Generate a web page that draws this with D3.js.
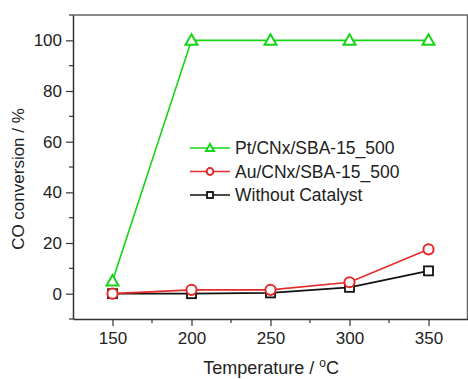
<!DOCTYPE html>
<html lang="en">
<head>
<meta charset="UTF-8">
<title>CO conversion</title>
<script src="https://d3js.org/d3.v7.min.js"></script>
<style>
  body { margin: 0; background: #fff; font-family: Arial, "Liberation Sans", sans-serif; }
  svg { display: block; }
  .tick text { font-size: 17px; fill: #222; }
</style>
</head>
<body>
<svg id="chart" width="468" height="379"></svg>
<script>
  const temperatures = [150, 200, 250, 300, 350];
  const ptValues = [5, 100, 100, 100, 100];
  const auValues = [0, 1.5, 1.5, 4.5, 17.5];
  const blankValues = [0, 0, 0.3, 2.5, 9];
  const seriesNames = ["Pt/CNx/SBA-15_500", "Au/CNx/SBA-15_500", "Without Catalyst"];
  const yTicks = [0, 20, 40, 60, 80, 100];

  const svg = d3.select("#chart");
  const mLeft = 73, mRight = 468, mTop = 15, mBottom = 319;

  const x = d3.scaleLinear().domain([125, 375]).range([mLeft, mRight]);
  const y = d3.scaleLinear().domain([-10, 110]).range([mBottom, mTop]);

  // frame top/right
  svg.append("path")
    .attr("d", `M${mLeft},${mTop}H${mRight - 0.5}V${mBottom}`)
    .attr("fill", "none").attr("stroke", "#666").attr("stroke-width", 1.5);

  // minor ticks
  svg.append("g").selectAll("line").data(d3.range(175, 375, 50)).join("line")
    .attr("x1", d => x(d)).attr("x2", d => x(d))
    .attr("y1", mBottom).attr("y2", mBottom + 4)
    .attr("stroke", "#333").attr("stroke-width", 1.2);
  svg.append("g").selectAll("line").data(d3.range(-10, 111, 20)).join("line")
    .attr("x1", mLeft).attr("x2", mLeft - 4)
    .attr("y1", d => y(d)).attr("y2", d => y(d))
    .attr("stroke", "#333").attr("stroke-width", 1.2);

  const xAxis = svg.append("g")
    .attr("transform", `translate(0,${mBottom})`)
    .call(d3.axisBottom(x).tickValues(temperatures).tickSize(7).tickPadding(6).tickSizeOuter(0));
  const yAxis = svg.append("g")
    .attr("transform", `translate(${mLeft},0)`)
    .call(d3.axisLeft(y).tickValues(yTicks).tickSize(7).tickPadding(4).tickSizeOuter(0));
  [xAxis, yAxis].forEach(a => {
    a.select(".domain").attr("stroke", "#333").attr("stroke-width", 1.5);
    a.selectAll(".tick line").attr("stroke", "#333").attr("stroke-width", 1.2);
  });

  const series = [
    { name: seriesNames[0], values: ptValues, color: "#16d416", shape: "tri" },
    { name: seriesNames[1], values: auValues, color: "#e52a2a", shape: "circle" },
    { name: seriesNames[2], values: blankValues, color: "#111", shape: "square" }
  ];

  const line = d3.line().x(d => x(d[0])).y(d => y(d[1]));

  function marker(g, shape, color, cx, cy, s) {
    if (shape === "tri") {
      g.append("path")
        .attr("d", `M${cx},${cy - s}L${cx + s},${cy + s * 0.75}L${cx - s},${cy + s * 0.75}Z`)
        .attr("fill", "#fff").attr("stroke", color).attr("stroke-width", 2);
    } else if (shape === "circle") {
      g.append("circle").attr("cx", cx).attr("cy", cy).attr("r", s * 0.85)
        .attr("fill", "#fff").attr("stroke", color).attr("stroke-width", 2);
    } else {
      g.append("rect").attr("x", cx - s * 0.75).attr("y", cy - s * 0.75)
        .attr("width", s * 1.5).attr("height", s * 1.5)
        .attr("fill", "#fff").attr("stroke", color).attr("stroke-width", 1.8);
    }
  }

  // draw back to front: black, red, green
  series.slice().reverse().forEach(s => {
    const pts = temperatures.map((t, i) => [t, s.values[i]]);
    svg.append("path").datum(pts).attr("d", line)
      .attr("fill", "none").attr("stroke", s.color).attr("stroke-width", 1.6);
    const g = svg.append("g");
    pts.forEach(p => marker(g, s.shape, s.color, x(p[0]), y(p[1]), 6));
  });

  // legend
  const legY = [148, 171.5, 195];
  series.forEach((s, i) => {
    const g = svg.append("g");
    g.append("line").attr("x1", 190).attr("x2", 230)
      .attr("y1", legY[i]).attr("y2", legY[i])
      .attr("stroke", s.color).attr("stroke-width", 1.6);
    marker(g, s.shape, s.color, 210, legY[i], 4);
    g.append("text").attr("x", 235).attr("y", legY[i] + 6)
      .attr("font-size", 17.5).attr("fill", "#222").text(s.name);
  });

  // axis titles
  svg.append("text")
    .attr("transform", "translate(24,179) rotate(-90)")
    .attr("text-anchor", "middle").attr("font-size", 17).attr("fill", "#222")
    .text("CO conversion / %");

  const xt = svg.append("text")
    .attr("x", 271).attr("y", 374)
    .attr("text-anchor", "middle").attr("font-size", 18).attr("fill", "#222");
  xt.append("tspan").text("Temperature / ");
  xt.append("tspan").attr("dy", -7).attr("font-size", 12).text("o");
  xt.append("tspan").attr("dy", 7).text("C");
</script>
</body>
</html>
